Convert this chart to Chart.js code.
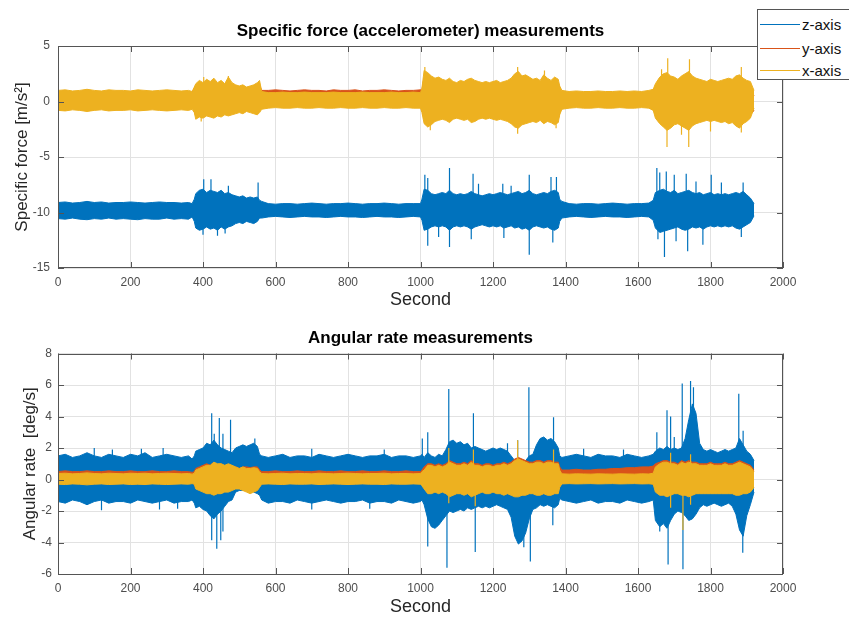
<!DOCTYPE html>
<html><head><meta charset="utf-8">
<script src="https://cdn.jsdelivr.net/npm/chart.js@4.4.1/dist/chart.umd.min.js"></script>
<style>
html,body{margin:0;padding:0;background:#fff;overflow:hidden;width:849px;height:618px;}
#wrap{position:relative;width:849px;height:618px;overflow:hidden;}
.pane{position:absolute;left:0;width:849px;height:309px;}
#legend{position:absolute;left:757px;top:9px;width:110px;height:71px;border:1px solid #555;background:#fff;font:15px "Liberation Sans",Arial,sans-serif;color:#111;box-sizing:border-box;}
.item{position:absolute;left:2px;height:20px;display:flex;align-items:center;white-space:nowrap;}
.swatch{width:40px;height:0;border-top:1px solid;margin-right:2px;}
</style></head>
<body>
<div id="wrap">
  <div class="pane" style="top:0"><canvas id="acc" width="849" height="309"></canvas></div>
  <div class="pane" style="top:309px"><canvas id="gyro" width="849" height="309"></canvas></div>
  <div id="legend"></div>
</div>
<script>
// ---------- DATA ----------
const seriesNames = ['z-axis','y-axis','x-axis'];
const xTicks = [0,200,400,600,800,1000,1200,1400,1600,1800,2000];
const accYTicks = [-15,-10,-5,0,5];
const gyroYTicks = [-6,-4,-2,0,2,4,6,8];

// sample times (s) of the envelope points
const seconds = [0,20,40,60,80,100,120,140,160,180,200,220,240,260,280,300,320,340,360,370,
376,380,390,400,410,420,430,440,450,460,470,480,490,500,510,520,530,540,550,556,
562,580,600,620,640,660,680,700,720,740,760,780,800,820,840,860,880,900,920,940,960,980,1000,1004,
1010,1020,1030,1040,1050,1060,1070,1080,1090,1100,1110,1120,1130,1140,1150,1160,1170,1180,1190,1200,1210,1220,1230,1240,1250,1260,1270,1280,1290,1300,1310,1320,1330,1340,1350,1360,1370,1380,1384,
1390,1410,1430,1450,1470,1490,1510,1530,1550,1570,1590,1610,1630,1642,
1648,1660,1670,1680,1690,1700,1710,1720,1730,1740,1750,1760,1770,1780,1790,1800,1810,1820,1830,1840,1850,1860,1870,1880,1890,1900,1910,1920];

// Specific force envelopes (upper / lower), m/s^2
const accXHi = [1.0,1.05,0.95,1.0,1.1,1.0,0.95,1.05,1.0,1.0,0.95,1.05,1.0,0.95,1.0,1.05,1.0,0.95,1.0,0.9,
1.3,1.6,1.9,1.7,2.0,1.8,2.1,1.7,1.9,1.6,2.2,1.7,1.5,1.4,1.5,1.3,1.4,1.5,1.7,1.9,
0.9,0.8,0.8,0.85,0.8,0.8,0.85,0.8,0.8,0.8,0.85,0.8,0.8,0.8,0.85,0.8,0.8,0.8,0.85,0.8,0.8,0.85,0.8,1.2,
2.8,2.6,2.3,2.1,2.2,2.0,1.9,2.1,1.8,1.7,1.9,1.8,2.0,2.1,1.9,1.8,1.7,1.8,1.7,1.8,1.9,1.7,1.8,1.9,2.1,2.5,2.7,2.3,2.4,2.2,2.0,2.1,1.9,2.4,2.1,1.9,2.2,2.0,1.4,
1.0,0.9,0.95,0.9,0.9,0.95,0.9,0.9,0.95,0.9,0.95,0.9,1.0,1.1,
1.6,2.2,2.5,2.6,2.3,2.2,2.0,2.3,2.5,2.7,2.3,2.1,2.0,1.9,1.8,2.0,1.9,1.8,1.9,2.0,2.1,2.0,2.3,2.4,2.1,1.9,1.8,1.0];
const accXLo = [-0.8,-0.85,-0.75,-0.8,-0.9,-0.8,-0.75,-0.85,-0.8,-0.8,-0.75,-0.85,-0.8,-0.75,-0.8,-0.85,-0.8,-0.75,-0.8,-0.7,
-1.0,-1.6,-1.4,-1.5,-1.3,-1.4,-1.5,-1.3,-1.4,-1.2,-1.3,-1.2,-1.1,-1.0,-1.1,-0.9,-1.0,-1.1,-1.2,-1.0,
-0.7,-0.6,-0.55,-0.6,-0.6,-0.55,-0.6,-0.6,-0.55,-0.6,-0.6,-0.55,-0.6,-0.6,-0.55,-0.6,-0.6,-0.55,-0.6,-0.6,-0.55,-0.6,-0.6,-1.0,
-2.0,-2.3,-2.1,-1.8,-1.7,-1.6,-1.7,-1.9,-1.6,-1.5,-1.6,-1.7,-1.6,-1.9,-1.8,-1.6,-1.5,-1.6,-1.5,-1.6,-1.7,-1.6,-1.7,-1.8,-2.0,-2.3,-2.4,-2.1,-2.0,-1.9,-1.8,-1.9,-1.7,-2.0,-1.8,-1.9,-2.1,-1.9,-1.2,
-0.7,-0.6,-0.55,-0.6,-0.6,-0.55,-0.6,-0.6,-0.55,-0.6,-0.6,-0.55,-0.6,-0.8,
-1.5,-2.0,-2.3,-2.6,-2.4,-2.1,-2.0,-2.2,-2.4,-2.6,-2.2,-2.0,-1.9,-1.8,-1.7,-1.8,-1.7,-1.8,-1.9,-1.8,-2.0,-1.9,-2.2,-2.4,-2.0,-1.8,-1.5,-0.6];
const accYHi = [0.85,0.9,0.85,0.9,0.95,0.85,0.9,0.85,0.9,0.85,0.9,0.85,0.9,0.85,0.9,0.85,0.9,0.85,0.9,0.8,
1.2,1.4,1.6,1.5,1.7,1.5,1.8,1.5,1.6,1.4,1.8,1.5,1.3,1.2,1.3,1.1,1.2,1.3,1.4,1.5,
1.0,1.0,1.05,1.0,0.95,1.0,1.05,1.0,1.0,0.95,1.05,1.0,1.0,1.05,0.95,1.0,1.0,1.05,1.0,0.95,1.0,1.0,1.05,1.1,
2.2,2.0,1.9,1.8,1.8,1.7,1.6,1.8,1.5,1.5,1.6,1.5,1.7,1.8,1.6,1.5,1.5,1.5,1.4,1.5,1.6,1.5,1.5,1.6,1.8,2.1,2.2,2.0,2.0,1.9,1.7,1.8,1.6,2.0,1.8,1.6,1.9,1.7,1.2,
0.8,0.75,0.8,0.75,0.8,0.75,0.8,0.75,0.8,0.75,0.8,0.75,0.8,0.9,
1.4,1.9,2.1,2.2,2.0,1.9,1.7,2.0,2.1,2.3,2.0,1.8,1.7,1.6,1.5,1.7,1.6,1.5,1.6,1.7,1.8,1.7,2.0,2.0,1.8,1.6,1.4,0.5];
const accYLo = [-0.6,-0.65,-0.6,-0.6,-0.7,-0.6,-0.55,-0.65,-0.6,-0.6,-0.55,-0.65,-0.6,-0.55,-0.6,-0.65,-0.6,-0.55,-0.6,-0.5,
-0.8,-1.3,-1.1,-1.2,-1.0,-1.1,-1.2,-1.0,-1.1,-0.9,-1.0,-0.9,-0.8,-0.8,-0.8,-0.7,-0.8,-0.8,-0.9,-0.8,
-0.5,-0.45,-0.4,-0.45,-0.45,-0.4,-0.45,-0.45,-0.4,-0.45,-0.45,-0.4,-0.45,-0.45,-0.4,-0.45,-0.45,-0.4,-0.45,-0.45,-0.4,-0.45,-0.45,-0.8,
-1.6,-1.9,-1.7,-1.5,-1.4,-1.3,-1.4,-1.6,-1.3,-1.2,-1.3,-1.4,-1.3,-1.6,-1.5,-1.3,-1.2,-1.3,-1.2,-1.3,-1.4,-1.3,-1.4,-1.5,-1.7,-1.9,-2.0,-1.8,-1.7,-1.6,-1.5,-1.6,-1.4,-1.7,-1.5,-1.6,-1.8,-1.6,-1.0,
-0.5,-0.45,-0.4,-0.45,-0.45,-0.4,-0.45,-0.45,-0.4,-0.45,-0.45,-0.4,-0.45,-0.6,
-1.2,-1.7,-2.0,-2.2,-2.0,-1.8,-1.7,-1.9,-2.0,-2.2,-1.9,-1.7,-1.6,-1.5,-1.4,-1.5,-1.4,-1.5,-1.6,-1.5,-1.7,-1.6,-1.9,-2.0,-1.7,-1.5,-1.2,-0.8];
const accZHi = [-9.1,-9.05,-9.15,-9.1,-9.0,-9.1,-9.05,-9.15,-9.1,-9.1,-9.05,-9.1,-9.15,-9.1,-9.05,-9.1,-9.1,-9.15,-9.1,-9.2,
-8.8,-8.3,-8.0,-7.9,-8.2,-8.0,-8.1,-8.2,-8.0,-8.3,-8.2,-8.4,-8.5,-8.6,-8.5,-8.7,-8.6,-8.7,-8.6,-8.9,
-9.0,-9.2,-9.25,-9.2,-9.2,-9.25,-9.2,-9.15,-9.2,-9.25,-9.2,-9.2,-9.15,-9.2,-9.25,-9.2,-9.2,-9.15,-9.2,-9.25,-9.2,-9.2,-9.2,-8.8,
-7.9,-8.0,-8.3,-8.4,-8.3,-8.2,-8.3,-8.0,-8.3,-8.4,-8.3,-8.4,-8.3,-8.1,-8.3,-8.4,-8.5,-8.4,-8.3,-8.4,-8.3,-8.2,-8.3,-8.4,-8.3,-8.2,-8.1,-8.3,-8.2,-8.0,-8.3,-8.4,-8.3,-8.2,-8.3,-8.1,-8.0,-8.2,-8.8,
-9.0,-9.2,-9.25,-9.2,-9.2,-9.25,-9.2,-9.15,-9.2,-9.25,-9.2,-9.2,-9.15,-8.9,
-8.2,-8.0,-7.9,-8.1,-8.2,-8.0,-8.3,-8.2,-8.1,-8.0,-8.2,-8.3,-8.2,-8.4,-8.3,-8.2,-8.4,-8.3,-8.4,-8.3,-8.4,-8.3,-8.2,-8.3,-8.1,-8.4,-8.7,-9.2];
const accZLo = [-10.55,-10.6,-10.5,-10.6,-10.65,-10.55,-10.6,-10.5,-10.6,-10.55,-10.6,-10.65,-10.55,-10.6,-10.6,-10.5,-10.6,-10.55,-10.6,-10.4,
-10.8,-11.4,-11.6,-11.5,-11.3,-11.5,-11.4,-11.6,-11.3,-11.5,-11.3,-11.2,-11.0,-10.9,-11.0,-10.8,-10.9,-11.0,-10.8,-10.5,
-10.5,-10.4,-10.35,-10.4,-10.45,-10.4,-10.35,-10.4,-10.4,-10.45,-10.4,-10.35,-10.4,-10.4,-10.45,-10.4,-10.35,-10.4,-10.4,-10.45,-10.4,-10.35,-10.4,-10.7,
-11.6,-11.5,-11.3,-11.2,-11.3,-11.2,-11.3,-11.6,-11.3,-11.2,-11.3,-11.2,-11.3,-11.5,-11.3,-11.2,-11.1,-11.2,-11.3,-11.2,-11.3,-11.2,-11.4,-11.3,-11.2,-11.4,-11.3,-11.5,-11.4,-11.6,-11.3,-11.2,-11.3,-11.4,-11.3,-11.5,-11.6,-11.4,-10.8,
-10.5,-10.4,-10.35,-10.4,-10.45,-10.4,-10.35,-10.4,-10.4,-10.45,-10.4,-10.35,-10.4,-10.7,
-11.4,-11.8,-11.7,-11.6,-11.5,-11.4,-11.3,-11.5,-11.6,-11.5,-11.3,-11.4,-11.3,-11.5,-11.3,-11.2,-11.3,-11.2,-11.3,-11.2,-11.3,-11.2,-11.4,-11.5,-11.3,-11.1,-10.9,-10.3];

// isolated peaks beyond the envelopes (time s, value)
const accZCenter = -9.8;
const accZSpikeT = [402,422,470,552,1012,1020,1080,1145,1160,1227,1250,1300,1360,1375,1652,1660,1678,1700,1733,1760,1802,1830,1890,
400,440,461,1020,1050,1080,1140,1230,1300,1365,1655,1673,1705,1737,1779,1885];
const accZSpikeV = [-7.0,-7.0,-7.6,-7.3,-6.6,-6.9,-6.0,-6.5,-7.4,-7.4,-7.6,-6.6,-6.8,-6.8,-6.0,-6.4,-6.3,-6.6,-6.5,-7.2,-6.6,-7.3,-7.3,
-12.0,-12.1,-11.9,-13.0,-12.2,-13.1,-12.4,-12.3,-13.8,-12.7,-12.4,-14.0,-12.6,-13.5,-12.9,-12.2];
const accXCenter = 0;
const accXSpikeT = [402,470,1012,1268,1342,1665,1682,1742,1885,395,1027,1268,1374,1680,1720,1740,1800,1885];
const accXSpikeV = [2.2,2.3,3.1,3.1,2.8,2.9,3.9,3.8,3.1,-1.8,-2.6,-2.9,-2.4,-4.1,-3.0,-4.1,-2.7,-2.8];

// Angular rate envelopes (upper / lower), deg/s
const gyroZHi = [1.5,1.6,1.4,1.5,1.7,1.5,1.4,1.6,1.5,1.4,1.6,1.5,1.7,1.4,1.5,1.6,1.5,1.4,1.5,1.3,
1.5,1.8,1.9,2.0,2.3,2.2,2.5,2.2,2.0,1.9,1.8,1.7,2.0,2.1,2.2,2.1,2.2,2.3,2.1,1.6,
1.5,1.4,1.5,1.6,1.4,1.5,1.5,1.4,1.6,1.5,1.4,1.5,1.6,1.5,1.4,1.5,1.5,1.6,1.4,1.5,1.5,1.4,1.5,1.6,
1.4,1.7,1.5,1.4,1.6,1.5,1.9,2.4,2.5,2.3,2.4,2.2,2.3,2.0,2.1,2.0,1.9,1.8,1.9,2.0,1.9,2.0,1.9,1.8,1.5,1.2,1.1,1.0,1.2,1.5,1.6,2.2,2.6,2.7,2.5,2.6,2.4,2.0,1.5,
1.4,1.5,1.6,1.5,1.4,1.6,1.5,1.5,1.4,1.6,1.5,1.4,1.5,1.6,
1.8,2.0,1.9,2.1,1.9,2.0,1.9,2.0,2.6,3.8,4.8,4.2,2.3,1.9,1.8,1.9,1.8,1.7,1.8,1.9,1.8,1.9,2.0,2.6,2.2,1.8,1.6,1.2];
const gyroZLo = [-1.4,-1.5,-1.3,-1.4,-1.6,-1.4,-1.3,-1.5,-1.4,-1.4,-1.5,-1.3,-1.4,-1.5,-1.4,-1.3,-1.5,-1.4,-1.4,-1.3,
-1.5,-1.8,-1.7,-1.9,-2.0,-2.3,-2.5,-2.2,-2.0,-1.7,-1.4,-1.3,-0.8,-0.7,-0.7,-0.6,-0.7,-0.8,-0.9,-1.0,
-1.3,-1.5,-1.4,-1.4,-1.5,-1.3,-1.4,-1.5,-1.4,-1.3,-1.4,-1.5,-1.4,-1.4,-1.3,-1.5,-1.4,-1.4,-1.5,-1.3,-1.4,-1.5,-1.4,-1.3,
-1.6,-2.5,-3.0,-3.1,-2.9,-2.6,-2.3,-2.0,-2.1,-2.0,-1.9,-2.0,-1.8,-1.9,-1.8,-1.7,-1.8,-1.7,-1.8,-1.7,-1.6,-1.7,-1.8,-1.9,-2.4,-3.6,-4.1,-3.9,-3.4,-2.5,-1.9,-1.8,-1.6,-1.7,-1.6,-1.7,-1.8,-1.6,-1.2,
-1.3,-1.4,-1.5,-1.4,-1.3,-1.5,-1.4,-1.4,-1.5,-1.3,-1.4,-1.5,-1.4,-1.3,
-2.6,-3.0,-2.8,-3.1,-2.6,-2.2,-2.0,-2.1,-2.3,-2.6,-2.5,-2.2,-1.8,-1.6,-1.7,-1.6,-1.5,-1.6,-1.7,-1.6,-1.5,-1.7,-2.2,-3.2,-3.6,-2.3,-1.6,-0.8];
const gyroYHi = [0.5,0.55,0.5,0.5,0.55,0.5,0.5,0.55,0.5,0.5,0.55,0.5,0.5,0.55,0.5,0.5,0.55,0.5,0.5,0.45,
0.5,0.7,0.8,0.9,1.0,0.9,1.1,0.9,1.0,0.8,0.9,0.8,0.8,0.7,0.8,0.8,0.75,0.8,0.8,0.6,
0.5,0.5,0.55,0.5,0.5,0.55,0.5,0.5,0.55,0.5,0.5,0.55,0.5,0.5,0.55,0.5,0.5,0.55,0.5,0.5,0.55,0.5,0.5,0.6,
0.8,1.0,1.0,0.9,1.0,0.9,1.0,1.2,1.1,1.0,1.0,1.1,1.0,1.2,1.0,1.0,0.9,1.0,1.0,0.9,1.0,1.0,1.1,1.0,1.1,1.3,1.4,1.3,1.2,1.1,1.1,1.2,1.2,1.1,1.2,1.2,1.1,1.1,0.8,
0.6,0.6,0.65,0.6,0.6,0.65,0.65,0.7,0.7,0.75,0.75,0.8,0.8,0.85,
1.0,1.1,1.2,1.2,1.1,1.1,1.0,1.2,1.1,1.2,1.1,1.1,1.0,1.0,1.0,1.1,1.0,1.0,1.0,1.1,1.0,1.0,1.1,1.2,1.1,1.0,0.9,0.6];
const gyroYLo = [-0.2,-0.25,-0.2,-0.2,-0.25,-0.2,-0.2,-0.25,-0.2,-0.2,-0.25,-0.2,-0.2,-0.25,-0.2,-0.2,-0.25,-0.2,-0.2,-0.2,
-0.3,-0.5,-0.6,-0.6,-0.7,-0.6,-0.7,-0.6,-0.6,-0.5,-0.5,-0.5,-0.5,-0.5,-0.5,-0.5,-0.5,-0.5,-0.5,-0.4,
-0.2,-0.2,-0.25,-0.2,-0.2,-0.25,-0.2,-0.2,-0.25,-0.2,-0.2,-0.25,-0.2,-0.2,-0.25,-0.2,-0.2,-0.25,-0.2,-0.2,-0.25,-0.2,-0.2,-0.3,
-0.5,-0.6,-0.7,-0.6,-0.6,-0.6,-0.6,-0.7,-0.6,-0.6,-0.6,-0.6,-0.6,-0.7,-0.6,-0.6,-0.6,-0.6,-0.6,-0.6,-0.6,-0.6,-0.6,-0.6,-0.6,-0.7,-0.7,-0.7,-0.6,-0.6,-0.6,-0.6,-0.6,-0.6,-0.6,-0.6,-0.6,-0.6,-0.4,
-0.2,-0.2,-0.25,-0.2,-0.2,-0.25,-0.2,-0.2,-0.25,-0.2,-0.2,-0.25,-0.2,-0.3,
-0.5,-0.7,-0.7,-0.8,-0.7,-0.6,-0.6,-0.7,-0.7,-0.7,-0.6,-0.6,-0.6,-0.6,-0.6,-0.6,-0.6,-0.6,-0.6,-0.6,-0.6,-0.6,-0.7,-0.7,-0.6,-0.6,-0.5,-0.3];
const gyroXHi = [0.38,0.4,0.36,0.38,0.42,0.38,0.36,0.4,0.38,0.36,0.4,0.38,0.4,0.36,0.38,0.4,0.38,0.36,0.38,0.34,
0.4,0.6,0.7,0.8,0.9,0.9,1.1,1.0,1.0,0.9,1.0,0.9,0.8,0.7,0.8,0.7,0.7,0.75,0.7,0.5,
0.38,0.36,0.38,0.4,0.36,0.38,0.38,0.36,0.4,0.38,0.36,0.38,0.4,0.38,0.36,0.38,0.38,0.4,0.36,0.38,0.38,0.36,0.38,0.5,
0.6,0.9,0.9,0.8,0.9,0.8,0.9,1.1,1.0,0.9,0.9,1.0,0.9,1.1,0.9,0.9,0.8,0.9,0.9,0.8,0.9,0.9,1.0,0.9,1.0,1.2,1.3,1.2,1.1,1.0,1.0,1.1,1.1,1.0,1.1,1.1,1.0,1.0,0.6,
0.36,0.34,0.36,0.35,0.34,0.36,0.35,0.34,0.36,0.35,0.34,0.36,0.35,0.4,
0.8,1.0,1.1,1.1,1.0,1.0,0.9,1.1,1.0,1.1,1.0,1.0,0.9,0.9,0.9,1.0,0.9,0.9,0.9,1.0,0.9,0.9,1.0,1.1,1.0,0.9,0.8,0.5];
const gyroXLo = [-0.3,-0.32,-0.28,-0.3,-0.34,-0.3,-0.28,-0.32,-0.3,-0.28,-0.32,-0.3,-0.32,-0.28,-0.3,-0.32,-0.3,-0.28,-0.3,-0.26,
-0.3,-0.6,-0.7,-0.8,-0.9,-0.9,-1.0,-0.9,-0.9,-0.8,-0.8,-0.7,-0.6,-0.6,-0.7,-0.8,-0.9,-0.8,-0.7,-0.5,
-0.3,-0.28,-0.3,-0.32,-0.28,-0.3,-0.3,-0.28,-0.32,-0.3,-0.28,-0.3,-0.32,-0.3,-0.28,-0.3,-0.3,-0.32,-0.28,-0.3,-0.3,-0.28,-0.3,-0.4,
-0.6,-0.9,-0.9,-0.8,-0.9,-0.8,-0.9,-1.1,-1.0,-0.9,-0.9,-1.0,-0.9,-1.1,-1.0,-0.9,-0.8,-0.9,-0.9,-0.8,-0.9,-0.9,-1.0,-0.9,-1.0,-1.1,-1.1,-1.0,-1.0,-0.9,-0.9,-1.0,-1.0,-0.9,-1.0,-1.0,-0.9,-0.9,-0.5,
-0.28,-0.26,-0.28,-0.27,-0.26,-0.28,-0.27,-0.26,-0.28,-0.27,-0.26,-0.28,-0.27,-0.3,
-0.8,-1.0,-1.0,-1.1,-1.0,-0.9,-0.9,-1.0,-1.0,-1.1,-1.0,-0.9,-0.9,-0.9,-0.9,-0.9,-0.9,-0.9,-0.9,-0.9,-0.9,-0.9,-1.0,-1.0,-0.9,-0.9,-0.8,-0.5];

const gyroZCenter = 0;
const gyroZSpikeT = [100,150,230,290,424,431,445,455,476,543,700,900,1005,1020,1078,1146,1240,1268,1299,1367,1450,1560,1652,1680,1690,1700,1722,1745,1753,1878,1890,
120,280,330,424,438,449,455,700,860,1020,1073,1151,1285,1303,1365,1660,1683,1724,1889];
const gyroZSpikeV = [2.0,1.9,1.95,2.0,4.2,2.9,3.9,2.9,3.8,2.6,1.95,1.9,2.6,3.0,5.75,4.2,2.3,2.5,5.85,3.96,1.95,1.9,3.0,4.4,4.0,2.7,6.1,6.25,5.85,5.45,3.1,
-1.95,-1.9,-1.85,-3.85,-4.4,-3.85,-3.3,-1.9,-1.85,-4.25,-5.6,-4.6,-4.3,-5.2,-2.9,-3.3,-5.4,-5.7,-4.65];
const gyroXCenter = 0;
const gyroXSpikeT = [1078,1146,1268,1367,1690,1745,1078,1151,1690,1724,1745];
const gyroXSpikeV = [2.0,1.9,2.5,1.9,1.7,1.6,-1.5,-1.7,-1.8,-3.2,-1.6];

// ---------- STYLE ----------
const COLORS = ['#0072BD','#D95319','#EDB120'];
const FONT = '"Liberation Sans", Arial, sans-serif';

function bandSets(hi, lo, color, order){
  const mk = arr => seconds.map((t,i)=>({x:t, y:arr[i]}));
  return [
    {data: mk(hi), borderColor: color, backgroundColor: color, borderWidth: 1, pointRadius: 0, fill: '+1', order, tension: 0},
    {data: mk(lo), borderColor: color, backgroundColor: color, borderWidth: 1, pointRadius: 0, fill: false, order, tension: 0}
  ];
}
function spikeSet(ts, vs, base, color, order){
  const d = [];
  ts.forEach((t,i)=>{ d.push({x:t,y:base},{x:t,y:vs[i]},{x:t,y:null}); });
  return {data: d, borderColor: color, borderWidth: 1.2, pointRadius: 0, fill: false, order, spanGaps: false};
}

const boxPlugin = {
  id: 'matlabBox',
  afterDraw(chart){
    const {ctx, chartArea: a, scales: {x, y}} = chart;
    ctx.save();
    ctx.strokeStyle = '#555';
    ctx.lineWidth = 1;
    ctx.strokeRect(Math.round(a.left)+0.5, Math.round(a.top)+0.5, Math.round(a.right-a.left)-1, Math.round(a.bottom-a.top)-1);
    ctx.beginPath();
    x.ticks.forEach(t=>{
      const p = Math.round(x.getPixelForValue(t.value))+0.5;
      ctx.moveTo(p, a.bottom); ctx.lineTo(p, a.bottom-6);
      ctx.moveTo(p, a.top); ctx.lineTo(p, a.top+6);
    });
    y.ticks.forEach(t=>{
      const p = Math.round(y.getPixelForValue(t.value))+0.5;
      ctx.moveTo(a.left, p); ctx.lineTo(a.left+6, p);
      ctx.moveTo(a.right, p); ctx.lineTo(a.right-6, p);
    });
    ctx.stroke();
    ctx.restore();
  }
};

function makeChart(id, cfg){
  return new Chart(document.getElementById(id), {
    type: 'line',
    data: {datasets: cfg.datasets},
    options: {
      responsive: false, animation: false, devicePixelRatio: 1,
      layout: {padding: {left: 0, right: 66, top: 0, bottom: 0}},
      plugins: {
        legend: {display: false}, tooltip: {enabled: false},
        title: {display: true, text: cfg.title, fullSize: false, color: '#000',
          font: {family: FONT, size: 17, weight: 'bold', lineHeight: 1.2},
          padding: {top: cfg.titleTop, bottom: cfg.titleBottom}}
      },
      scales: {
        x: {type: 'linear', min: 0, max: 2000,
          afterBuildTicks: s => { s.ticks = xTicks.map(v=>({value:v})); },
          afterFit: s => { s.height = cfg.xHeight; },
          grid: {color: '#e2e2e2', drawTicks: false}, border: {display: false},
          ticks: {padding: 7, autoSkip: false, maxRotation: 0, color: '#4d4d4d', font: {family: FONT, size: 12}, callback: v => String(v)},
          title: {display: true, text: 'Second', color: '#262626', font: {family: FONT, size: 18, lineHeight: 1}, padding: {top: 0, bottom: cfg.xTitlePad}}
        },
        y: {type: 'linear', min: cfg.yMin, max: cfg.yMax,
          afterBuildTicks: s => { s.ticks = cfg.yTicks.map(v=>({value:v})); },
          afterFit: s => { s.width = 58; },
          grid: {color: '#e2e2e2', drawTicks: false}, border: {display: false},
          ticks: {padding: cfg.yTickPad, autoSkip: false, color: '#4d4d4d', font: {family: FONT, size: 12}, callback: v => String(v)},
          title: {display: true, text: cfg.yTitle, color: '#262626', font: {family: FONT, size: 17, lineHeight: 1}, padding: {top: cfg.yTitlePad, bottom: 0}}
        }
      }
    },
    plugins: [boxPlugin]
  });
}

makeChart('acc', {
  title: 'Specific force (accelerometer) measurements',
  yTitle: 'Specific force [m/s\u00B2]',
  yMin: -15, yMax: 5, yTicks: accYTicks,
  titleTop: 21, titleBottom: 4.6, xHeight: 41, xTitlePad: 0, yTitlePad: 14, yTickPad: 8,
  datasets: [
    ...bandSets(accZHi, accZLo, COLORS[0], 2),
    spikeSet(accZSpikeT, accZSpikeV, accZCenter, COLORS[0], 2),
    ...bandSets(accYHi, accYLo, COLORS[1], 1),
    ...bandSets(accXHi, accXLo, COLORS[2], 0),
    spikeSet(accXSpikeT, accXSpikeV, accXCenter, COLORS[2], 0)
  ]
});

makeChart('gyro', {
  title: 'Angular rate measurements',
  yTitle: 'Angular rate  [deg/s]',
  yMin: -6, yMax: 8, yTicks: gyroYTicks,
  titleTop: 19, titleBottom: 5.1, xHeight: 44, xTitlePad: 2, yTitlePad: 21.5, yTickPad: 6,
  datasets: [
    ...bandSets(gyroZHi, gyroZLo, COLORS[0], 2),
    spikeSet(gyroZSpikeT, gyroZSpikeV, gyroZCenter, COLORS[0], 2),
    ...bandSets(gyroYHi, gyroYLo, COLORS[1], 1),
    ...bandSets(gyroXHi, gyroXLo, COLORS[2], 0),
    spikeSet(gyroXSpikeT, gyroXSpikeV, gyroXCenter, COLORS[2], 0)
  ]
});

// legend
const lg = document.getElementById('legend');
const legendTops = [4, 28, 50];
seriesNames.forEach((n,i)=>{
  const it = document.createElement('div');
  it.className = 'item';
  it.style.top = legendTops[i] + 'px';
  const sw = document.createElement('span');
  sw.className = 'swatch';
  sw.style.borderTopColor = COLORS[i];
  const tx = document.createElement('span');
  tx.textContent = n;
  it.appendChild(sw); it.appendChild(tx);
  lg.appendChild(it);
});
</script>
</body></html>
